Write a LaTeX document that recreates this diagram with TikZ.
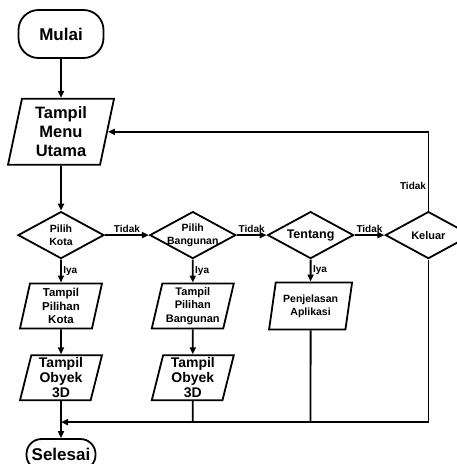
\documentclass[tikz,border=0pt]{standalone}
\usepackage{fontspec}
\setmainfont{Liberation Sans}
\usetikzlibrary{arrows.meta,positioning,shapes.geometric}
\newcommand{\fsz}[2]{\bfseries\fontsize{#1}{#2}\selectfont}

\begin{document}
\begin{tikzpicture}[x=1pt, y=1pt,
  terminal/.style={draw, line width=1.8pt, fill=white, align=center},
  io/.style={trapezium, trapezium left angle=75, trapezium right angle=105,
             trapezium stretches body, draw, line width=1.8pt, align=center,
             inner xsep=1pt, inner ysep=1pt},
  decision/.style={diamond, draw, line width=1.8pt, minimum width=86pt,
                   minimum height=47pt, inner sep=0pt},
  dtext/.style={align=center, inner sep=0pt},
  arr/.style={-{Triangle[length=7pt,width=6pt]}, line width=1.8pt},
  line/.style={line width=1.8pt},
  lbl/.style={font=\fsz{10}{11}, inner sep=1.5pt},
]
  \useasboundingbox (0,0) rectangle (457,-464);

  \node[terminal, rounded corners=20pt, minimum width=85pt, minimum height=48pt,
        font=\fsz{17}{19}] (mulai) at (61,-34) {Mulai};
  \node[io, minimum width=106pt, minimum height=66pt, font=\fsz{16.5}{19},
        below=39pt of mulai] (menu) {Tampil\\Menu\\Utama};

  % pilihan menu
  \node[decision, label={[dtext, font=\fsz{10.5}{13}]center:{Pilih\\Kota}},
        below=45pt of menu] (kota) {};
  \node[decision, label={[dtext, font=\fsz{10.5}{13}]center:{Pilih\\Bangunan}},
        right=44pt of kota] (bangunan) {};
  \node[decision, label={[dtext, font=\fsz{12.5}{14}]center:{Tentang}},
        right=30pt of bangunan] (tentang) {};
  \node[decision, label={[dtext, font=\fsz{11}{13}]center:{Keluar}},
        right=30pt of tentang] (keluar) {};

  \node[io, minimum width=82pt, minimum height=45pt, font=\fsz{11.5}{13.5},
        below=23pt of kota] (pilihankota) {Tampil\\Pilihan\\Kota};
  \node[io, minimum width=82pt, minimum height=45pt, font=\fsz{14}{15},
        below=25pt of pilihankota] (obyekkota) {Tampil\\Obyek\\3D};
  \node[io, minimum width=82pt, minimum height=45pt, font=\fsz{11}{13.5},
        below=23pt of bangunan] (pilihanbangunan) {Tampil\\Pilihan\\Bangunan};
  \node[io, minimum width=82pt, minimum height=45pt, font=\fsz{14}{15},
        below=25pt of pilihanbangunan] (obyekbangunan) {Tampil\\Obyek\\3D};
  \node[io, minimum width=83pt, minimum height=47pt, font=\fsz{10.5}{13},
        below=22pt of tentang] (penjelasan) {Penjelasan\\Aplikasi};

  \node[terminal, rounded corners=15pt, minimum width=69pt, minimum height=31pt,
        inner ysep=1pt, font=\fsz{17}{19}, below=37pt of obyekkota] (selesai) {Selesai};
  \coordinate[below=21pt of obyekkota] (merge);

  \draw[arr] (mulai) -- (menu);
  \draw[arr] (menu) -- (kota);
  \draw[arr] (kota) -- node[lbl, above] {Tidak} (bangunan);
  \draw[arr] (bangunan) -- node[lbl, above] {Tidak} (tentang);
  \draw[arr] (tentang) -- node[lbl, above] {Tidak} (keluar);
  \draw[arr] (keluar) |- node[lbl, left, pos=0.16] {Tidak} (menu);

  \draw[arr] (kota) -- node[lbl, right] {Iya} (pilihankota);
  \draw[arr] (bangunan) -- node[lbl, right] {Iya} (pilihanbangunan);
  \draw[arr] (tentang) -- node[lbl, right] {Iya} (penjelasan);
  \draw[arr] (pilihankota) -- (obyekkota);
  \draw[arr] (pilihanbangunan) -- (obyekbangunan);

  % kembali ke selesai
  \draw[arr] (obyekkota) -- (selesai);
  \draw[arr] (keluar) |- (merge);
  \draw[line] (penjelasan) -- (penjelasan |- merge);
  \draw[line] (obyekbangunan) -- (obyekbangunan |- merge);
\end{tikzpicture}
\end{document}
